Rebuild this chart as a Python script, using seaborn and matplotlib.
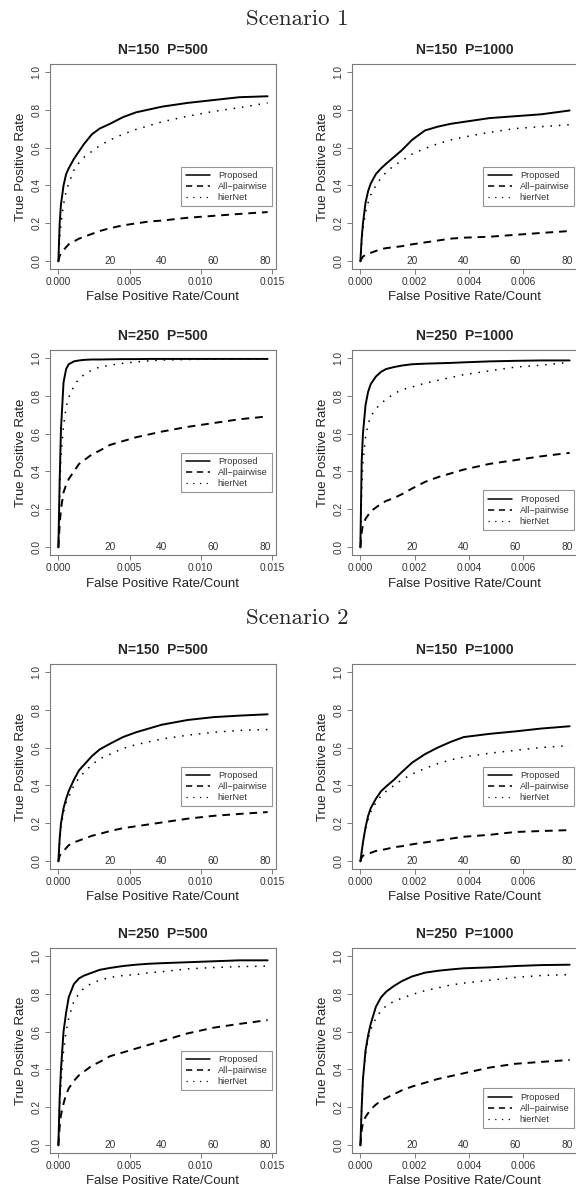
import matplotlib
matplotlib.use("Agg")
import matplotlib.pyplot as plt
import seaborn as sns

# ─────────────────────────────────────────────
# DATA
# ─────────────────────────────────────────────
# false positive counts shared by every curve
COUNTS = [0, 0.5, 1, 2, 3, 4, 6, 8, 10, 13, 16, 20, 25, 30, 35, 40, 50, 60, 70, 81]
COUNT_LABELS = [20, 40, 60, 80]

# rightmost false positive rate reached by the curves
FPR_END_P500 = 0.0147
FPR_END_P1000 = 0.0077

X_TICKS_P500 = [0.000, 0.005, 0.010, 0.015]
X_TICKS_P1000 = [0.000, 0.002, 0.004, 0.006]
Y_TICKS = [0.0, 0.2, 0.4, 0.6, 0.8, 1.0]

METHODS = ["Proposed", "All\u2212pairwise", "hierNet"]

# Scenario 1
s1_n150_p500_proposed = [0, 0.20, 0.30, 0.40, 0.46, 0.49, 0.54, 0.58, 0.62, 0.67, 0.70, 0.725, 0.76, 0.785, 0.80, 0.815, 0.835, 0.85, 0.865, 0.87]
s1_n150_p500_pairwise = [0, 0.03, 0.04, 0.06, 0.075, 0.09, 0.105, 0.12, 0.13, 0.145, 0.16, 0.175, 0.19, 0.20, 0.21, 0.215, 0.23, 0.24, 0.25, 0.26]
s1_n150_p500_hiernet = [0, 0.12, 0.20, 0.30, 0.37, 0.41, 0.48, 0.52, 0.55, 0.58, 0.61, 0.64, 0.67, 0.695, 0.715, 0.735, 0.765, 0.79, 0.81, 0.835]

s1_n150_p1000_proposed = [0, 0.12, 0.20, 0.31, 0.37, 0.41, 0.46, 0.49, 0.515, 0.55, 0.585, 0.64, 0.69, 0.71, 0.725, 0.735, 0.755, 0.765, 0.775, 0.795]
s1_n150_p1000_pairwise = [0, 0.015, 0.025, 0.035, 0.04, 0.045, 0.055, 0.065, 0.07, 0.075, 0.08, 0.09, 0.10, 0.11, 0.12, 0.125, 0.13, 0.14, 0.15, 0.16]
s1_n150_p1000_hiernet = [0, 0.10, 0.17, 0.26, 0.31, 0.35, 0.40, 0.44, 0.47, 0.505, 0.53, 0.565, 0.595, 0.62, 0.64, 0.655, 0.68, 0.70, 0.71, 0.72]

s1_n250_p500_proposed = [0, 0.35, 0.62, 0.87, 0.94, 0.965, 0.98, 0.985, 0.988, 0.99, 0.99, 0.991, 0.992, 0.992, 0.993, 0.993, 0.993, 0.993, 0.993, 0.993]
s1_n250_p500_pairwise = [0, 0.12, 0.20, 0.29, 0.33, 0.36, 0.40, 0.44, 0.46, 0.49, 0.51, 0.54, 0.56, 0.58, 0.595, 0.61, 0.635, 0.655, 0.675, 0.69]
s1_n250_p500_hiernet = [0, 0.30, 0.48, 0.64, 0.74, 0.79, 0.85, 0.89, 0.91, 0.935, 0.95, 0.96, 0.97, 0.977, 0.983, 0.987, 0.99, 0.992, 0.993, 0.993]

s1_n250_p1000_proposed = [0, 0.45, 0.60, 0.75, 0.82, 0.86, 0.90, 0.925, 0.94, 0.95, 0.958, 0.965, 0.968, 0.97, 0.972, 0.975, 0.98, 0.983, 0.985, 0.985]
s1_n250_p1000_pairwise = [0, 0.08, 0.12, 0.15, 0.17, 0.19, 0.21, 0.23, 0.245, 0.26, 0.28, 0.31, 0.345, 0.37, 0.39, 0.41, 0.44, 0.46, 0.48, 0.498]
s1_n250_p1000_hiernet = [0, 0.30, 0.45, 0.58, 0.65, 0.69, 0.73, 0.76, 0.78, 0.81, 0.83, 0.845, 0.865, 0.88, 0.895, 0.91, 0.93, 0.95, 0.96, 0.975]

# Scenario 2
s2_n150_p500_proposed = [0, 0.12, 0.20, 0.28, 0.33, 0.37, 0.43, 0.48, 0.51, 0.555, 0.59, 0.62, 0.655, 0.68, 0.70, 0.72, 0.745, 0.76, 0.768, 0.775]
s2_n150_p500_pairwise = [0, 0.03, 0.04, 0.055, 0.07, 0.085, 0.10, 0.11, 0.12, 0.135, 0.145, 0.16, 0.175, 0.185, 0.195, 0.205, 0.225, 0.24, 0.25, 0.26]
s2_n150_p500_hiernet = [0, 0.10, 0.18, 0.26, 0.31, 0.34, 0.40, 0.44, 0.47, 0.51, 0.54, 0.565, 0.595, 0.615, 0.63, 0.645, 0.665, 0.68, 0.69, 0.695]

s2_n150_p1000_proposed = [0, 0.05, 0.10, 0.18, 0.24, 0.28, 0.33, 0.37, 0.395, 0.43, 0.47, 0.52, 0.565, 0.60, 0.63, 0.655, 0.672, 0.685, 0.70, 0.712]
s2_n150_p1000_pairwise = [0, 0.02, 0.03, 0.035, 0.04, 0.045, 0.055, 0.06, 0.065, 0.075, 0.08, 0.09, 0.10, 0.11, 0.12, 0.13, 0.14, 0.155, 0.16, 0.165]
s2_n150_p1000_hiernet = [0, 0.05, 0.10, 0.17, 0.22, 0.26, 0.31, 0.345, 0.37, 0.40, 0.43, 0.46, 0.49, 0.515, 0.535, 0.55, 0.57, 0.585, 0.60, 0.61]

s2_n250_p500_proposed = [0, 0.25, 0.40, 0.60, 0.70, 0.78, 0.85, 0.88, 0.895, 0.91, 0.925, 0.935, 0.945, 0.952, 0.957, 0.96, 0.965, 0.97, 0.975, 0.975]
s2_n250_p500_pairwise = [0, 0.10, 0.16, 0.22, 0.27, 0.30, 0.34, 0.37, 0.39, 0.42, 0.44, 0.47, 0.49, 0.51, 0.53, 0.55, 0.59, 0.62, 0.64, 0.66]
s2_n250_p500_hiernet = [0, 0.20, 0.33, 0.50, 0.60, 0.67, 0.76, 0.80, 0.83, 0.855, 0.87, 0.885, 0.895, 0.90, 0.91, 0.915, 0.93, 0.937, 0.942, 0.945]

s2_n250_p1000_proposed = [0, 0.20, 0.35, 0.50, 0.58, 0.64, 0.73, 0.78, 0.81, 0.84, 0.865, 0.89, 0.91, 0.92, 0.927, 0.933, 0.938, 0.945, 0.95, 0.952]
s2_n250_p1000_pairwise = [0, 0.08, 0.12, 0.15, 0.17, 0.19, 0.215, 0.235, 0.25, 0.27, 0.29, 0.31, 0.33, 0.35, 0.365, 0.38, 0.41, 0.43, 0.44, 0.45]
s2_n250_p1000_hiernet = [0, 0.20, 0.35, 0.48, 0.56, 0.61, 0.67, 0.71, 0.735, 0.76, 0.775, 0.795, 0.815, 0.83, 0.845, 0.855, 0.87, 0.885, 0.895, 0.90]

# ─────────────────────────────────────────────
# STYLE
# ─────────────────────────────────────────────
sns.set_style("white")
plt.rcParams["font.family"] = ["Liberation Sans", "DejaVu Sans"]

BOX_GRAY = "#7a7a7a"
TEXT_GRAY = "#333333"
LINE_STYLES = {
    "Proposed": dict(linestyle="-", linewidth=1.4),
    "All\u2212pairwise": dict(linestyle=(0, (4, 3)), linewidth=1.4),
    "hierNet": dict(linestyle=(0, (1, 4.5)), linewidth=1.1),
}

W, H, DPI = 576, 1193, 100
fig = plt.figure(figsize=(W / DPI, H / DPI), dpi=DPI)

# panel boxes in pixels: (left, top)
BOX_W, BOX_H = 226, 205
COL_LEFT = [50, 352]
ROW_TOP = [64, 350, 664, 948]

panels = [
    # row, col, title, curves, legend top
    (0, 0, "N=150  P=500", (s1_n150_p500_proposed, s1_n150_p500_pairwise, s1_n150_p500_hiernet), 0.50),
    (0, 1, "N=150  P=1000", (s1_n150_p1000_proposed, s1_n150_p1000_pairwise, s1_n150_p1000_hiernet), 0.50),
    (1, 0, "N=250  P=500", (s1_n250_p500_proposed, s1_n250_p500_pairwise, s1_n250_p500_hiernet), 0.50),
    (1, 1, "N=250  P=1000", (s1_n250_p1000_proposed, s1_n250_p1000_pairwise, s1_n250_p1000_hiernet), 0.30),
    (2, 0, "N=150  P=500", (s2_n150_p500_proposed, s2_n150_p500_pairwise, s2_n150_p500_hiernet), 0.50),
    (2, 1, "N=150  P=1000", (s2_n150_p1000_proposed, s2_n150_p1000_pairwise, s2_n150_p1000_hiernet), 0.50),
    (3, 0, "N=250  P=500", (s2_n250_p500_proposed, s2_n250_p500_pairwise, s2_n250_p500_hiernet), 0.50),
    (3, 1, "N=250  P=1000", (s2_n250_p1000_proposed, s2_n250_p1000_pairwise, s2_n250_p1000_hiernet), 0.30),
]

for row, col, title, curves, leg_top in panels:
    left = COL_LEFT[col] / W
    bottom = 1 - (ROW_TOP[row] + BOX_H) / H
    ax = fig.add_axes([left, bottom, BOX_W / W, BOX_H / H])

    fpr_end = FPR_END_P500 if col == 0 else FPR_END_P1000
    x_ticks = X_TICKS_P500 if col == 0 else X_TICKS_P1000
    per_count = fpr_end / COUNTS[-1]
    fpr = [c * per_count for c in COUNTS]

    for name, vals in zip(METHODS, curves):
        sns.lineplot(x=fpr, y=vals, ax=ax, color="black",
                     label=name, estimator=None, sort=False,
                     **LINE_STYLES[name])

    # R-style 4% padding
    ax.set_xlim(-0.04 * fpr_end, 1.04 * fpr_end)
    ax.set_ylim(-0.04, 1.04)
    ax.set_xticks(x_ticks)
    ax.set_xticklabels([f"{t:.3f}" for t in x_ticks])
    ax.set_yticks(Y_TICKS)
    ax.set_yticklabels([f"{t:.1f}" for t in Y_TICKS],
                       rotation=90, va="center")
    ax.tick_params(axis="both", direction="out", length=3.5,
                   width=0.7, color=BOX_GRAY, labelsize=7.3,
                   labelcolor=TEXT_GRAY, pad=2.5)
    ax.tick_params(axis="x", bottom=True)
    ax.tick_params(axis="y", left=True)
    for sp in ax.spines.values():
        sp.set_color(BOX_GRAY)
        sp.set_linewidth(0.8)

    # false positive counts written inside the box
    for c in COUNT_LABELS:
        ax.text(c * per_count, 0.0, str(c), ha="center", va="center",
                fontsize=7.3, color=TEXT_GRAY)

    ax.set_title(title, fontsize=10, fontweight="bold", pad=7)
    ax.set_xlabel("False Positive Rate/Count", fontsize=9.5,
                  color="#222222", labelpad=3)
    ax.set_ylabel("True Positive Rate", fontsize=9.5,
                  color="#222222", labelpad=3)

    leg = ax.legend(loc="upper right",
                    bbox_to_anchor=(0.983, (leg_top + 0.04) / 1.08),
                    fontsize=6.6, frameon=True, fancybox=False,
                    handlelength=2.7, handletextpad=0.8,
                    labelspacing=0.2, borderpad=0.5, borderaxespad=0)
    leg.get_frame().set_edgecolor(BOX_GRAY)
    leg.get_frame().set_linewidth(0.8)
    for t in leg.get_texts():
        t.set_color(TEXT_GRAY)
    for ln in leg.get_lines():
        ln.set_linewidth(ln.get_linewidth() * 0.8)

fig.text(297 / W, 1 - 19 / H, "Scenario 1", family="cmr10",
         fontsize=16.5, ha="center", va="center")
fig.text(297 / W, 1 - 618 / H, "Scenario 2", family="cmr10",
         fontsize=16.5, ha="center", va="center")

fig.savefig("out.png", dpi=DPI)
plt.close(fig)
